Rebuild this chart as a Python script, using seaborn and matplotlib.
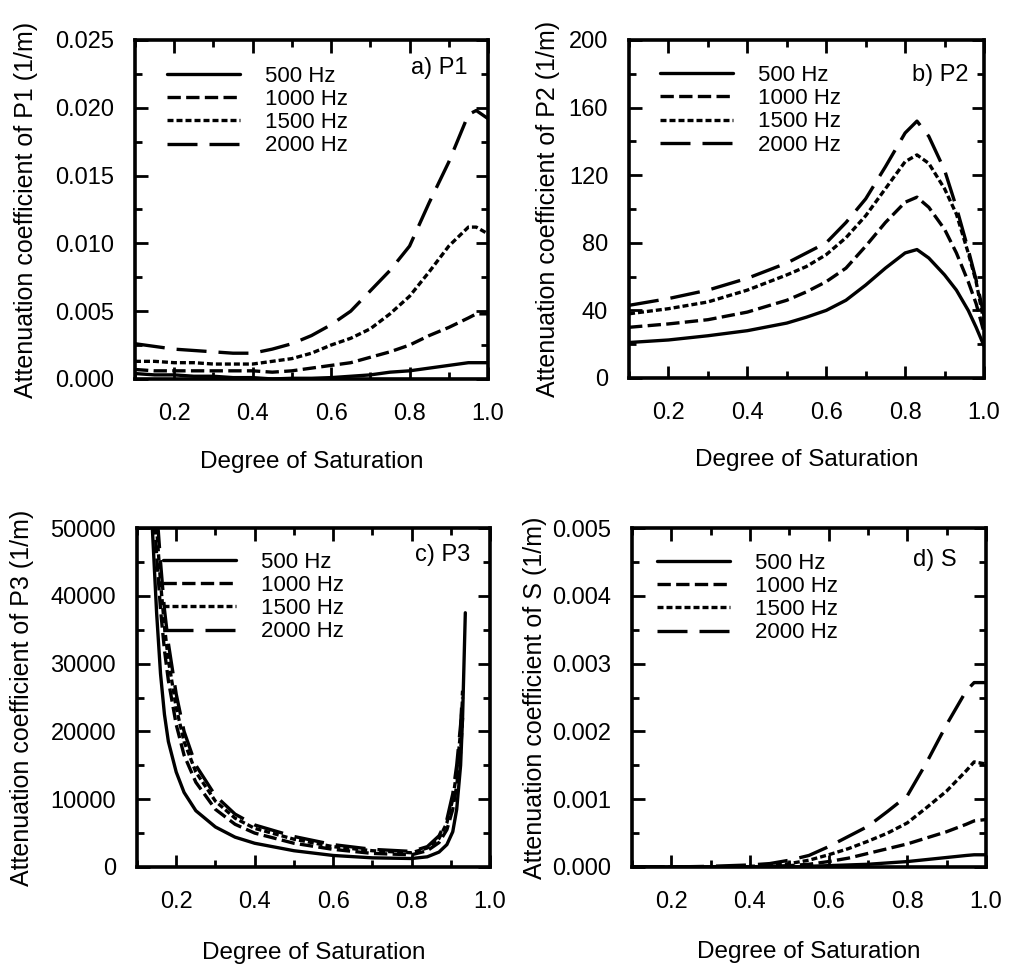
import numpy as np
import pandas as pd
import matplotlib
matplotlib.use("Agg")
import matplotlib.pyplot as plt
from matplotlib.ticker import MultipleLocator, FormatStrFormatter
import seaborn as sns

freqs = ["500 Hz", "1000 Hz", "1500 Hz", "2000 Hz"]

# ---- a) P1 wave ----
s_p1 = [0.10, 0.15, 0.20, 0.25, 0.30, 0.35, 0.40, 0.45, 0.50, 0.55,
        0.60, 0.65, 0.70, 0.75, 0.80, 0.85, 0.90, 0.95, 0.97, 1.00]
p1_500 = [0.0004, 0.0003, 0.0003, 0.0002, 0.0002, 0.0001, 0.0001, 0.0000, 0.00005, 0.00005,
          0.0001, 0.0002, 0.0003, 0.0005, 0.0006, 0.0008, 0.0010, 0.0012, 0.0012, 0.0012]
p1_1000 = [0.0007, 0.0006, 0.0006, 0.0006, 0.0006, 0.0006, 0.0006, 0.0005, 0.0006, 0.0008,
           0.0010, 0.0012, 0.0016, 0.0020, 0.0025, 0.0032, 0.0038, 0.0045, 0.0048, 0.0048]
p1_1500 = [0.0013, 0.0013, 0.0012, 0.0012, 0.0011, 0.0011, 0.0011, 0.0013, 0.0015, 0.0019,
           0.0025, 0.0030, 0.0037, 0.0048, 0.0061, 0.0079, 0.0098, 0.0112, 0.0112, 0.0107]
p1_2000 = [0.0026, 0.0024, 0.0022, 0.0021, 0.0020, 0.0019, 0.0019, 0.0022, 0.0026, 0.0032,
           0.0040, 0.0050, 0.0065, 0.0080, 0.0098, 0.0130, 0.0160, 0.0195, 0.0198, 0.0192]

# ---- b) P2 wave ----
s_p2 = [0.10, 0.20, 0.30, 0.40, 0.50, 0.55, 0.60, 0.65, 0.70, 0.75,
        0.80, 0.83, 0.86, 0.90, 0.93, 0.96, 0.98, 1.00]
p2_500 = [21, 22.5, 25, 28, 32.5, 36, 40, 46, 55, 65, 74, 76, 71, 61, 52, 40, 30, 19]
p2_1000 = [30, 32, 34.5, 39, 46, 51, 57, 65, 78, 92, 104, 107, 101, 88, 74, 57, 44, 27]
p2_1500 = [38, 41, 45, 52, 61, 66, 73, 83, 96, 112, 128, 132, 127, 112, 97, 74, 57, 33]
p2_2000 = [43, 47, 52, 59, 68, 74, 80, 92, 106, 125, 145, 152, 143, 123, 101, 76, 58, 37]

# ---- c) P3 wave ----
s_p3 = [0.135, 0.14, 0.15, 0.16, 0.17, 0.18, 0.20, 0.22, 0.25, 0.30, 0.35, 0.40,
        0.50, 0.60, 0.70, 0.80, 0.84, 0.87, 0.89, 0.905, 0.915, 0.925, 0.93, 0.937]
p3_500 = [55000, 49000, 37500, 28500, 22500, 18500, 14000, 11000, 8300, 5900, 4400, 3500,
          2400, 1700, 1350, 1250, 1500, 2200, 3300, 5200, 8500, 15000, 22000, 37500]
p3_1000 = [62000, 56000, 46000, 38000, 32000, 27500, 21000, 16500, 12500, 8500, 6300, 5000,
           3500, 2600, 2000, 1800, 2400, 3600, 5500, 8500, 12000, 17000, 22000, np.nan]
p3_1500 = [66000, 60000, 50000, 42000, 35500, 30500, 23500, 18500, 14000, 9700, 7200, 5700,
           4100, 3000, 2400, 2100, 2800, 4200, 6500, 10000, 14000, 20000, 25000, np.nan]
p3_2000 = [70000, 63000, 53000, 45000, 38000, 33000, 25500, 20000, 15000, 10500, 7800, 6200,
           4500, 3300, 2600, 2300, 3000, 4600, 7000, 10800, 15000, 21000, 26000, np.nan]

# ---- d) S wave ----
s_s = [0.10, 0.20, 0.30, 0.40, 0.45, 0.50, 0.55, 0.60, 0.65, 0.70,
       0.75, 0.80, 0.85, 0.90, 0.95, 0.97, 1.00]
s_500 = [0, 0, 0, 0, 0, 0, 0.00001, 0.00002, 0.00003, 0.00004,
         0.00006, 0.00008, 0.00011, 0.00014, 0.00017, 0.00018, 0.00018]
s_1000 = [0, 0, 0, 0, 0.00001, 0.00002, 0.00004, 0.00008, 0.00013, 0.00020,
          0.00027, 0.00034, 0.00043, 0.00052, 0.00063, 0.00068, 0.00070]
s_1500 = [0, 0, 0, 0.00001, 0.00002, 0.00005, 0.00010, 0.00018, 0.00027, 0.00038,
          0.00050, 0.00065, 0.00088, 0.00112, 0.00142, 0.00155, 0.00152]
s_2000 = [0, 0, 0.00001, 0.00003, 0.00005, 0.00010, 0.00017, 0.00030, 0.00045, 0.00060,
          0.00082, 0.00105, 0.00155, 0.00210, 0.00260, 0.00272, 0.00272]

panel_titles = ["a) P1", "b) P2", "c) P3", "d) S"]
y_labels = ["Attenuation coefficient of P1 (1/m)",
            "Attenuation coefficient of P2 (1/m)",
            "Attenuation coefficient of P3 (1/m)",
            "Attenuation coefficient of S (1/m)"]
x_label = "Degree of Saturation"


def long_frame(s, series):
    parts = [pd.DataFrame({"S": s, "alpha": vals, "freq": f})
             for f, vals in zip(freqs, series)]
    return pd.concat(parts, ignore_index=True)


sns.set_theme(style="ticks")
plt.rcParams["font.family"] = ["Liberation Sans", "DejaVu Sans"]
plt.rcParams.update({
    "axes.linewidth": 2.6,
    "axes.edgecolor": "black",
    "xtick.color": "black",
    "ytick.color": "black",
    "text.color": "black",
    "axes.labelcolor": "black",
})

fig = plt.figure(figsize=(10.11, 9.66), dpi=100)
fig.patch.set_facecolor("white")

line_w = 2.4
dash_map = {"500 Hz": "", "1000 Hz": (4.0, 1.6), "1500 Hz": (1.8, 0.9), "2000 Hz": (9.0, 3.6)}

panels = [
    dict(rect=[0.1335, 0.6077, 0.3492, 0.3509], df=long_frame(s_p1, [p1_500, p1_1000, p1_1500, p1_2000]),
         ylim=(0, 0.025), ymaj=0.005, ymin=0.0025, yfmt="%.3f",
         ylab_x=-0.31, xlab_y=-0.245, title_xy=(0.943, 0.917), leg=(0.091, 0.924)),
    dict(rect=[0.6222, 0.6087, 0.3511, 0.3499], df=long_frame(s_p2, [p2_500, p2_1000, p2_1500, p2_2000]),
         ylim=(0, 200), ymaj=40, ymin=20, yfmt="%d",
         ylab_x=-0.228, xlab_y=-0.243, title_xy=(0.955, 0.896), leg=(0.087, 0.926)),
    dict(rect=[0.1355, 0.1025, 0.3492, 0.3509], df=long_frame(s_p3, [p3_500, p3_1000, p3_1500, p3_2000]),
         ylim=(0, 50000), ymaj=10000, ymin=5000, yfmt="%d",
         ylab_x=-0.326, xlab_y=-0.254, title_xy=(0.943, 0.92), leg=(0.074, 0.930)),
    dict(rect=[0.6251, 0.1025, 0.3501, 0.3509], df=long_frame(s_s, [s_500, s_1000, s_1500, s_2000]),
         ylim=(0, 0.005), ymaj=0.001, ymin=0.0005, yfmt="%.3f",
         ylab_x=-0.274, xlab_y=-0.25, title_xy=(0.918, 0.906), leg=(0.071, 0.927)),
]

for i, p in enumerate(panels):
    ax = fig.add_axes(p["rect"])
    ax.set_facecolor("white")
    sns.lineplot(data=p["df"], x="S", y="alpha", style="freq", style_order=freqs,
                 dashes=dash_map, color="black", linewidth=line_w, errorbar=None,
                 ax=ax, legend=True)
    ax.set_xlim(0.1, 1.0)
    ax.set_ylim(*p["ylim"])
    ax.xaxis.set_major_locator(MultipleLocator(0.2))
    ax.xaxis.set_minor_locator(MultipleLocator(0.1))
    ax.xaxis.set_major_formatter(FormatStrFormatter("%.1f"))
    ax.yaxis.set_major_locator(MultipleLocator(p["ymaj"]))
    ax.yaxis.set_minor_locator(MultipleLocator(p["ymin"]))
    ax.yaxis.set_major_formatter(FormatStrFormatter(p["yfmt"]))
    ax.tick_params(which="both", direction="in", top=True, right=True,
                   labelsize=17, width=2.0)
    ax.tick_params(which="major", length=9)
    ax.tick_params(which="minor", length=5)
    ax.tick_params(axis="x", which="major", pad=17)
    ax.tick_params(axis="y", which="major", pad=15)
    for sp in ax.spines.values():
        sp.set_visible(True)
        sp.set_linewidth(2.6)
        sp.set_color("black")

    ax.set_xlabel(x_label, fontsize=17.5, va="center")
    ax.set_ylabel(y_labels[i], fontsize=18, va="center")
    ax.xaxis.set_label_coords(0.5, p["xlab_y"])
    ax.yaxis.set_label_coords(p["ylab_x"], 0.5)

    ax.text(p["title_xy"][0], p["title_xy"][1], panel_titles[i], transform=ax.transAxes,
            ha="right", va="center", fontsize=17)

    handles, labels = ax.get_legend_handles_labels()
    for h in handles:
        h.set_color("black")
        h.set_linewidth(line_w)
    ax.legend(handles, labels, loc="upper left", bbox_to_anchor=p["leg"],
              frameon=False, fontsize=16, labelspacing=0.1, handlelength=3.3,
              handletextpad=1.1, borderpad=0, borderaxespad=0)

fig.savefig("out.png", dpi=100, facecolor="white")
